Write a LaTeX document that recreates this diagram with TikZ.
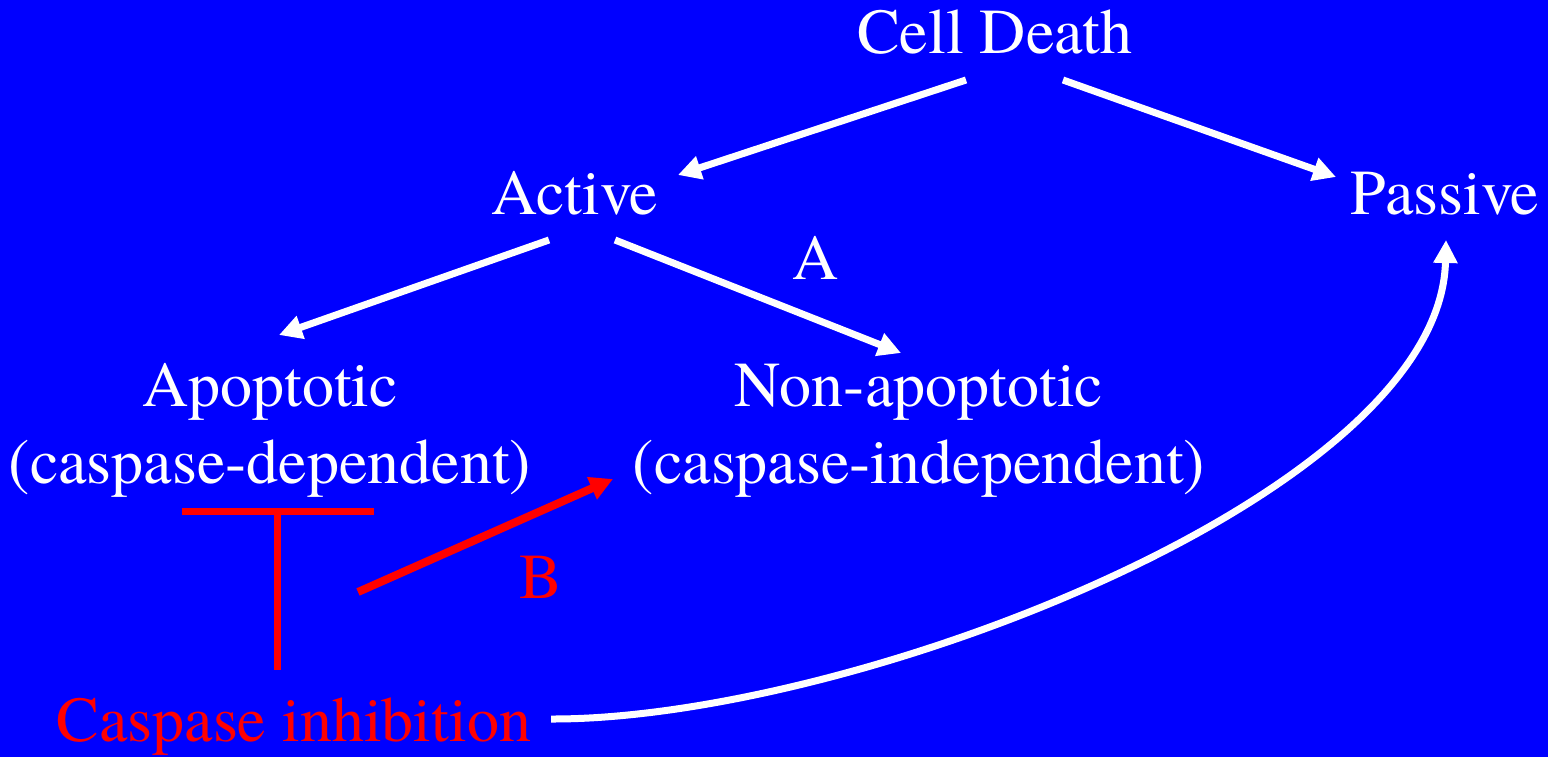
\documentclass[tikz,border=0pt]{standalone}
\usepackage{fontspec}
% Times-like serif face; Latin Modern (slightly reduced) if it is missing
\newcommand\lblsize{58.5}
\IfFontExistsTF{texgyretermes-regular.otf}
  {\setmainfont{texgyretermes}[Extension=.otf,UprightFont=*-regular,BoldFont=*-bold,
     ItalicFont=*-italic,BoldItalicFont=*-bolditalic]\renewcommand\lblsize{64}}
  {}
\usetikzlibrary{arrows.meta}
\definecolor{bgblue}{RGB}{0,0,255}
\definecolor{inhred}{RGB}{255,0,0}
\begin{document}
\begin{tikzpicture}[x=1pt,y=-1pt,
  lbl/.style={inner sep=0pt,anchor=base,text=white,font=\rmfamily\fontsize{\lblsize}{77}\selectfont},
  redlbl/.style={lbl,text=inhred},
  flow/.style={draw=white,line width=7pt,-{Triangle[length=23pt,width=23pt]}},
  redflow/.style={draw=inhred,line width=8pt,-{Triangle[length=23pt,width=23pt]}},
  blockbar/.style={draw=inhred,line width=7pt}]
  % background
  \fill[bgblue] (0,0) rectangle (1548,757);
  \useasboundingbox (0,0) rectangle (1548,757);

  % labels
  \node[lbl] (death)   at (995,54)  {Cell Death};
  \node[lbl] (active)  at (575,214) {Active};
  \node[lbl] (passive) at (1445,214) {Passive};
  \node[lbl] (labA)    at (816,279) {A};
  \node[lbl] (apo)     at (270,406) {Apoptotic};
  \node[lbl] (apoSub)  at (270,483) {(caspase-dependent)};
  \node[lbl] (non)     at (919,406) {Non-apoptotic};
  \node[lbl] (nonSub)  at (919,483) {(caspase-independent)};
  \node[redlbl] (labB) at (541,598) {B};
  \node[redlbl] (inh)  at (294,741) {Caspase inhibition};

  % connector end points
  \coordinate (deathL)  at (966,80);
  \coordinate (deathR)  at (1063,80);
  \coordinate (activeIn) at (678,175);
  \coordinate (passiveIn) at (1336,177);
  \coordinate (activeL) at (549,240);
  \coordinate (activeR) at (615,240);
  \coordinate (apoIn)   at (279,335);
  \coordinate (nonIn)   at (901,353);
  \coordinate (bStart)  at (358,592);
  \coordinate (nonSubIn) at (613,479);
  \coordinate (barL)    at (182,511);
  \coordinate (barR)    at (374,511);
  \coordinate (barMid)  at (277,511);
  \coordinate (stemEnd) at (277,670);
  \coordinate (inhOut)  at (551,719);
  \coordinate (passiveUp) at (1446,240);

  % hierarchy arrows
  \draw[flow] (deathL) -- (activeIn);
  \draw[flow] (deathR) -- (passiveIn);
  \draw[flow] (activeL) -- (apoIn);
  \draw[flow] (activeR) -- (nonIn);

  % caspase inhibition: block apoptosis, divert to other routes
  \draw[blockbar] (barL) -- (barR);
  \draw[blockbar] (barMid) -- (stemEnd);
  \draw[redflow] (bStart) -- (nonSubIn);
  \draw[flow] (inhOut) .. controls (850,720) and (1440,495) .. (passiveUp);
\end{tikzpicture}
\end{document}
